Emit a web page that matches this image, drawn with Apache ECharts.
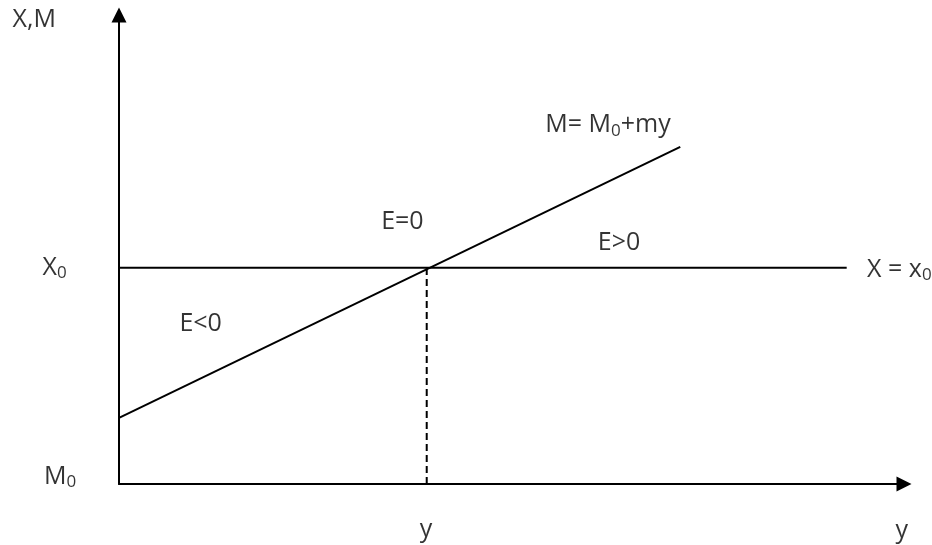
<!DOCTYPE html>
<html lang="en">

<head>
    <meta charset="UTF-8">
    <title>X,M</title>
    <style>
        html, body {
            margin: 0;
            padding: 0;
            background: #fff;
        }

        #chart {
            width: 932px;
            height: 545px;
        }
    </style>
</head>

<body>
    <div id="chart"></div>
</body>
<script src="https://cdn.jsdelivr.net/npm/echarts@6/dist/echarts.min.js"></script>
<script type="text/javascript">
    // 数据 (axis units 0..100)
    const mLineX = [0, 71.5]          // M = M0 + my
    const mLineY = [14.1, 71.9]
    const xLineX = [0, 92.7]          // X = x0
    const xLineY = [46.1, 46.1]
    const dashX = [39.2, 39.2]        // y at E=0
    const dashY = [0, 46.1]

    // annotations, '_' marks a subscript character
    const annoText = ['X,M', 'X_0', 'M_0', 'E<0', 'E=0', 'E>0', 'M= M_0+my', 'X = x_0', 'y', 'y']
    const annoX = [-10.8, -8.2, -7.5, 10.4, 36.1, 63.7, 62.3, 95.3, 39.1, 99.7]
    const annoY = [98.9, 46.1, 1.5, 34.1, 55.9, 51.4, 76.5, 45.7, -9.8, -10.0]

    const FONT = '"Open Sans", sans-serif'

    function toRich(t) {
        return t.split(/_(.)/).map(function (s, i) {
            if (s === '') return ''
            return i % 2 ? '{s|' + s + '}' : '{n|' + s + '}'
        }).join('')
    }

    function pairs(xs, ys) {
        return xs.map(function (x, i) { return [x, ys[i]] })
    }

    let myChart = echarts.init(document.getElementById('chart'))

    const axisLine = {
        show: true,
        symbol: ['none', 'triangle'],
        symbolSize: [15, 15],
        lineStyle: { color: '#000', width: 2 }
    }
    const plain = {
        type: 'value',
        min: 0,
        max: 100,
        axisLine: axisLine,
        axisTick: { show: false },
        axisLabel: { show: false },
        splitLine: { show: false }
    }

    const lineBase = {
        type: 'line',
        symbol: 'none',
        silent: true,
        animation: false
    }

    let option = {
        backgroundColor: '#fff',
        animation: false,
        grid: { left: 119, right: 28, top: 15, bottom: 61 },
        xAxis: plain,
        yAxis: plain,
        series: [
            Object.assign({}, lineBase, {
                data: pairs(xLineX, xLineY),
                lineStyle: { color: '#000', width: 2 }
            }),
            Object.assign({}, lineBase, {
                data: pairs(mLineX, mLineY),
                lineStyle: { color: '#000', width: 2 }
            }),
            Object.assign({}, lineBase, {
                data: pairs(dashX, dashY),
                lineStyle: { color: '#000', width: 2, type: [7, 4] }
            }),
            {
                type: 'scatter',
                symbolSize: 0,
                clip: false,
                silent: true,
                data: annoText.map(function (t, i) {
                    return {
                        value: [annoX[i], annoY[i]],
                        name: t,
                        label: { align: t === 'X = x_0' ? 'left' : 'center' }
                    }
                }),
                label: {
                    show: true,
                    position: [0, 0],
                    verticalAlign: 'middle',
                    formatter: function (p) { return toRich(p.name) },
                    rich: {
                        n: { fontFamily: FONT, fontSize: 25, color: '#000', lineHeight: 28 },
                        s: { fontFamily: FONT, fontSize: 17, color: '#000', lineHeight: 13, verticalAlign: 'bottom' }
                    }
                }
            }
        ]
    }

    option && myChart.setOption(option)
</script>

</html>
